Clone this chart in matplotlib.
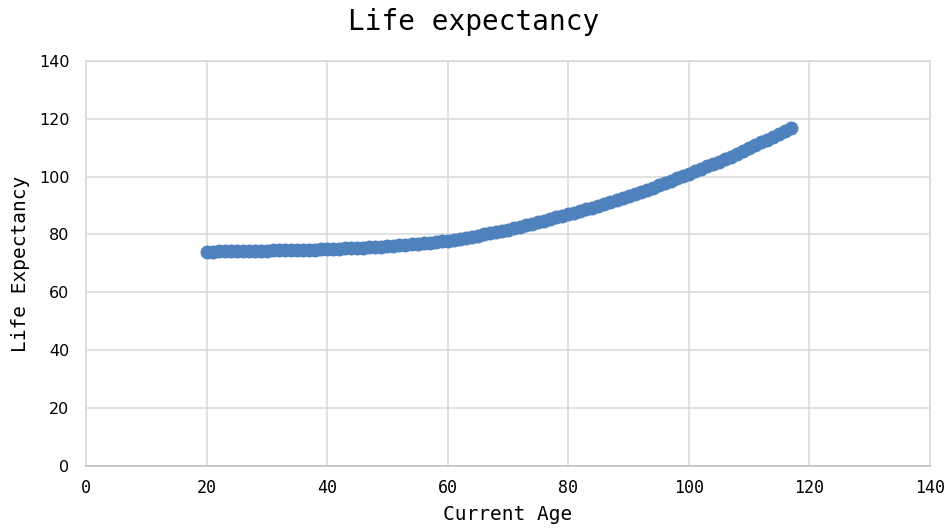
import matplotlib.pyplot as plt

# current age (years) and projected life expectancy at that age
ages = list(range(20, 118))
life_exp = [
    74.1, 74.1, 74.2, 74.2, 74.2, 74.3, 74.3, 74.3, 74.4, 74.4,   # 20-29
    74.4, 74.5, 74.5, 74.5, 74.6, 74.6, 74.7, 74.7, 74.8, 74.9,   # 30-39
    74.9, 75.0, 75.1, 75.2, 75.3, 75.4, 75.5, 75.6, 75.7, 75.8,   # 40-49
    76.0, 76.1, 76.3, 76.4, 76.6, 76.8, 77.0, 77.2, 77.4, 77.6,   # 50-59
    77.9, 78.2, 78.5, 78.8, 79.2, 79.6, 80.0, 80.4, 80.8, 81.3,   # 60-69
    81.7, 82.2, 82.7, 83.2, 83.7, 84.2, 84.8, 85.3, 85.9, 86.4,   # 70-79
    87.0, 87.5, 88.1, 88.7, 89.3, 89.9, 90.5, 91.2, 91.9, 92.5,   # 80-89
    93.2, 93.9, 94.6, 95.4, 96.2, 97.0, 97.8, 98.6, 99.4, 100.2,  # 90-99
    101.0, 101.8, 102.6, 103.5, 104.3, 105.2, 106.0, 106.9, 107.8, 108.9,  # 100-109
    109.8, 110.8, 111.8, 112.8, 113.8, 114.8, 115.8, 116.8,       # 110-117
]

x_ticks = [0, 20, 40, 60, 80, 100, 120, 140]
y_ticks = [0, 20, 40, 60, 80, 100, 120, 140]

fig = plt.figure(figsize=(9.48, 5.29), dpi=100)
ax = fig.add_axes([0.0907, 0.119, 0.8903, 0.766])

ax.plot(ages, life_exp, linestyle='none', marker='o', markersize=9.5,
        markerfacecolor='#4f81bd', markeredgecolor='#4f81bd', markeredgewidth=0.5)

ax.set_xlim(0, 140)
ax.set_ylim(0, 140)
ax.set_xticks(x_ticks)
ax.set_yticks(y_ticks)

ax.grid(True, color='#d9d9d9', linewidth=1.1)
ax.set_axisbelow(True)
for side in ax.spines:
    ax.spines[side].set_color('#d9d9d9')
    ax.spines[side].set_linewidth(1.1)
ax.spines['bottom'].set_color('#bfbfbf')

ax.tick_params(axis='both', length=0)
ax.tick_params(axis='x', pad=9)
ax.tick_params(axis='y', pad=12)
for lbl in ax.get_xticklabels():
    lbl.set_family('DejaVu Sans Mono')
    lbl.set_fontsize(12)
for lbl in ax.get_yticklabels():
    lbl.set_family('DejaVu Sans')
    lbl.set_fontsize(11.5)

# title sits at the centre of the whole figure
fig.text(0.5, 1 - 22 / 529, 'Life expectancy', family='DejaVu Sans Mono',
         fontsize=20, ha='center', va='center')
ax.set_xlabel('Current Age', family='DejaVu Sans Mono', fontsize=14, labelpad=6)
ax.set_ylabel('Life Expectancy', family='DejaVu Sans Mono', fontsize=14, labelpad=6)

fig.savefig('out.png', dpi=100)
